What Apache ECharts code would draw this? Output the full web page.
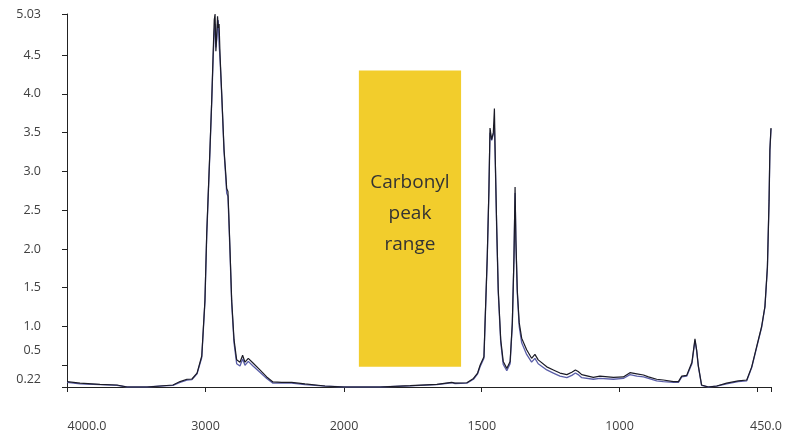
<!DOCTYPE html>
<html>
<head>
<meta charset="utf-8">
<script src="https://cdn.jsdelivr.net/npm/echarts@6/dist/echarts.min.js"></script>
<style>
html,body{margin:0;padding:0;background:#fff;}
#chart{width:791px;height:435px;}
</style>
</head>
<body>
<div id="chart"></div>
<script>
// ---- data (wavenumber cm-1, absorbance) ----
const wnHigh = [4000,3906,3762,3639,3567,3422,3329,3235,3184,3134,3098,3061,3027,3004,2991,2982,2968,2955,2944,2937,2931,2925,2919,2913,2908,2902,2895,2883,2866,2853,2847,2838,2832,2823,2811,2794,2775,2751,2732,2715,2691,2657,2607,2558,2513,2450,2378,2282,2137,2000];
const blackHigh = [0.29,0.27,0.255,0.246,0.22,0.22,0.233,0.246,0.29,0.32,0.323,0.40,0.62,1.34,2.21,2.63,3.28,3.92,4.57,4.95,5.03,4.55,4.75,5.00,4.85,4.90,4.50,4.01,3.28,2.95,2.78,2.74,2.45,1.99,1.34,0.83,0.57,0.54,0.63,0.54,0.59,0.53,0.44,0.35,0.285,0.28,0.28,0.26,0.233,0.22];
const blueHigh  = [0.28,0.26,0.25,0.24,0.22,0.22,0.23,0.24,0.28,0.31,0.315,0.39,0.60,1.32,2.18,2.60,3.25,3.90,4.50,4.80,4.90,4.60,4.70,4.90,4.95,4.65,4.45,3.98,3.25,2.90,2.72,2.68,2.40,1.95,1.30,0.79,0.52,0.49,0.58,0.50,0.55,0.49,0.41,0.33,0.27,0.27,0.27,0.25,0.23,0.22];

const wnLow = [2000,1942,1869,1760,1663,1609,1597,1554,1530,1515,1506,1492,1488,1480,1474,1470,1464,1458,1454,1451,1446,1440,1431,1422,1409,1397,1389,1383,1379,1376,1371,1364,1355,1337,1319,1307,1295,1264,1240,1216,1191,1173,1160,1150,1137,1095,1071,1022,986,962,937,913,895,865,841,804,786,774,756,737,726,720,714,702,678,647,611,569,538,520,502,484,472,463,457,454,450];
const blackLow = [0.22,0.22,0.22,0.237,0.255,0.28,0.27,0.275,0.33,0.40,0.50,0.61,1.05,1.90,2.76,3.56,3.41,3.50,3.81,3.19,2.33,1.47,0.83,0.55,0.46,0.55,1.05,1.90,2.80,2.12,1.47,1.05,0.85,0.70,0.59,0.64,0.57,0.48,0.44,0.40,0.38,0.41,0.44,0.42,0.38,0.345,0.36,0.345,0.35,0.405,0.39,0.375,0.35,0.32,0.31,0.29,0.29,0.36,0.37,0.54,0.84,0.70,0.50,0.246,0.22,0.233,0.27,0.30,0.31,0.48,0.74,1.00,1.26,1.77,2.63,3.28,3.56];
const blueLow  = [0.22,0.22,0.22,0.235,0.25,0.275,0.265,0.27,0.32,0.39,0.48,0.59,1.02,1.88,2.74,3.50,3.40,3.48,3.56,3.15,2.30,1.43,0.79,0.51,0.43,0.52,1.02,1.88,2.72,2.08,1.43,1.00,0.79,0.64,0.54,0.59,0.52,0.44,0.40,0.36,0.34,0.37,0.40,0.38,0.34,0.32,0.33,0.32,0.33,0.38,0.36,0.35,0.33,0.30,0.29,0.28,0.28,0.35,0.36,0.52,0.82,0.69,0.49,0.24,0.22,0.23,0.26,0.29,0.30,0.47,0.73,0.99,1.25,1.76,2.62,3.27,3.55];

// axes
const yMin = 0.22, yMax = 5.03;
const yTickValues = [0.22,0.5,1.0,1.5,2.0,2.5,3.0,3.5,4.0,4.5,5.03];
const yTickLabels = ['0.22','0.5','1.0','1.5','2.0','2.5','3.0','3.5','4.0','4.5','5.03'];
const xHighTicks = [4000,3000,2000];
const xHighLabels = ['4000.0','3000','2000'];
const xLowTicks = [1500,1000,500,450];
const xLowLabelValues = [1500,1000,450];
const xLowLabels = ['1500','1000','450.0'];

// highlighted region
const carbonylRange = {wnFrom:1946, wnTo:1575, absFrom:0.48, absTo:4.30, text:'Carbonyl\npeak\nrange'};

const pair = (xs, ys) => xs.map((x,i)=>[x, ys[i]]);

const FONT = '"Open Sans", "Noto Sans", sans-serif';
const AX = '#222';
const LBL = '#404040';
const BLACK = '#1b1b26';
const BLUE = '#5a5ea8';

const gridTop = 14, gridBottom = 48;
const chart = echarts.init(document.getElementById('chart'), null, {renderer:'canvas'});

const labelStyle = {color:LBL, fontSize:12.5, fontFamily:FONT};

chart.setOption({
  animation:false,
  backgroundColor:'#fff',
  grid:[
    {left:67, top:gridTop, width:277, bottom:gridBottom, containLabel:false},
    {left:344, top:gridTop, right:20, bottom:gridBottom, containLabel:false}
  ],
  xAxis:[
    {type:'value', gridIndex:0, min:2000, max:4000, inverse:true,
     axisLine:{show:true, lineStyle:{color:AX, width:1}},
     axisTick:{show:true, length:5, customValues:xHighTicks, lineStyle:{color:AX}},
     axisLabel:{show:true, customValues:xHighTicks, margin:33, ...labelStyle,
       formatter:(v)=>{ const i = xHighTicks.indexOf(v); const t = xHighLabels[i];
         return i===0 ? '{l|'+t+'}' : t; },
       rich:{l:{...labelStyle, padding:[0,0,0,40]}}},
     splitLine:{show:false}},
    {type:'value', gridIndex:1, min:450, max:2000, inverse:true,
     axisLine:{show:true, lineStyle:{color:AX, width:1}},
     axisTick:{show:true, length:5, customValues:xLowTicks, lineStyle:{color:AX}},
     axisLabel:{show:true, customValues:xLowLabelValues, margin:33, ...labelStyle,
       formatter:(v)=>{ const i = xLowLabelValues.indexOf(v); const t = xLowLabels[i];
         return i===xLowLabels.length-1 ? '{r|'+t+'}' : t; },
       rich:{r:{...labelStyle, padding:[0,10,0,0]}}},
     splitLine:{show:false}}
  ],
  yAxis:[
    {type:'value', gridIndex:0, min:yMin, max:yMax,
     axisLine:{show:true, lineStyle:{color:AX, width:1}},
     axisTick:{show:true, length:5, customValues:yTickValues, lineStyle:{color:AX}},
     axisLabel:{show:true, customValues:yTickValues, margin:26, ...labelStyle,
       formatter:(v)=>{ const i = yTickValues.indexOf(v); const t = yTickLabels[i];
         if (i===0) return '{a|'+t+'}';
         if (i===1) return '{b|'+t+'}';
         return t; },
       rich:{a:{...labelStyle, padding:[0,0,16,0]}, b:{...labelStyle, padding:[0,0,30,0]}}},
     splitLine:{show:false}},
    {type:'value', gridIndex:1, min:yMin, max:yMax, show:false, splitLine:{show:false}}
  ],
  series:[
    {type:'line', xAxisIndex:0, yAxisIndex:0, data:pair(wnHigh, blueHigh), showSymbol:false,
     lineStyle:{color:BLUE, width:1.3}, z:2},
    {type:'line', xAxisIndex:0, yAxisIndex:0, data:pair(wnHigh, blackHigh), showSymbol:false,
     lineStyle:{color:BLACK, width:1.2}, z:3},
    {type:'line', xAxisIndex:1, yAxisIndex:1, data:pair(wnLow, blueLow), showSymbol:false,
     lineStyle:{color:BLUE, width:1.3}, z:2},
    {type:'line', xAxisIndex:1, yAxisIndex:1, data:pair(wnLow, blackLow), showSymbol:false,
     lineStyle:{color:BLACK, width:1.2}, z:3,
     markArea:{silent:true,
       itemStyle:{color:'#F2CD2C'},
       label:{show:true, position:'inside', color:'#333', fontSize:19, lineHeight:31, fontFamily:FONT,
         formatter:carbonylRange.text, offset:[0,-5]},
       data:[[{xAxis:carbonylRange.wnFrom, yAxis:carbonylRange.absTo},{xAxis:carbonylRange.wnTo, yAxis:carbonylRange.absFrom}]]}}
  ]
});
</script>
</body>
</html>
